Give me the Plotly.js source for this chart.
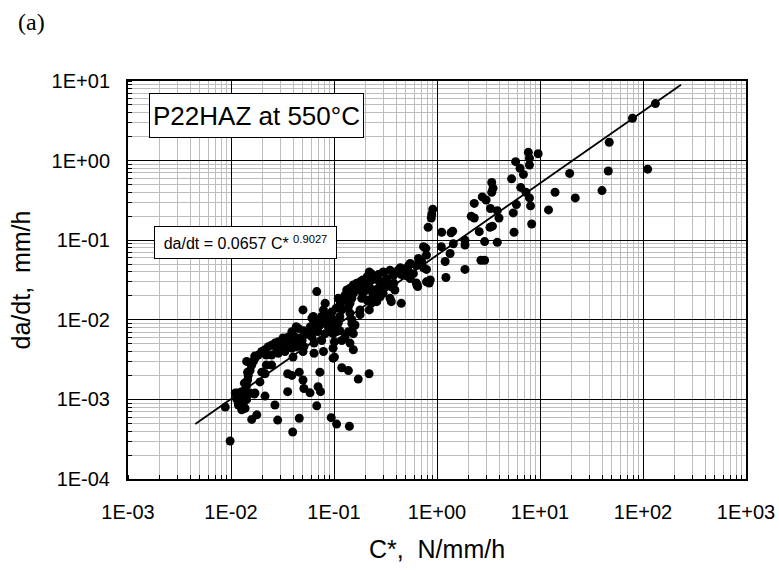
<!DOCTYPE html>
<html>
<head>
<meta charset="utf-8">
<script src="https://cdn.plot.ly/plotly-3.0.1.min.js"></script>
<style>html,body{margin:0;padding:0;background:#fff;}#chart{width:779px;height:571px;}</style>
</head>
<body>
<div id="chart"></div>
<script>
// C* (N/mm/h) values of the measured points
const cStar = [
132, 79, 47, 111, 46, 40, 19.4, 22, 14, 12.1, 7.7, 9.6, 7.9, 7.9, 5.8, 6.4, 6.9, 5.3, 6.5, 7.3,
7.9, 8.1, 5.9, 5.5, 8.3, 5.6, 3.4, 3.5, 3.4, 2.75, 3.0, 2.3, 3.3, 3.85, 4.0, 2.15, 2.3, 3.27, 3.45, 2.57,
2.9, 3.85, 1.87, 1.87, 1.42, 1.37, 1.11, 1.44, 1.34, 1.2, 2.67, 2.9, 1.87, 1.22, 1.1,
0.91, 0.89, 0.88, 0.82, 0.74, 0.78, 0.79,
0.66, 0.71, 0.74, 0.79, 0.84, 0.64, 0.79, 0.86, 0.55, 0.59, 0.53, 0.50, 0.55, 0.63, 0.44, 0.45, 0.35, 0.42,
0.38, 0.32, 0.34, 0.38, 0.45, 0.36, 0.35, 0.30, 0.28, 0.26, 0.25, 0.24, 0.27, 0.30, 0.325, 0.22, 0.25, 0.26,
0.23, 0.22, 0.21, 0.19, 0.186, 0.179, 0.166, 0.154, 0.149, 0.143, 0.138, 0.179, 0.22, 0.23, 0.21, 0.179,
0.143, 0.149, 0.154, 0.16, 0.123, 0.119, 0.114, 0.110, 0.106, 0.114, 0.128, 0.133, 0.143, 0.154, 0.166, 0.179,
0.19, 0.21, 0.23, 0.28, 0.325, 0.36, 0.39, 0.53, 0.50, 0.63, 0.65,
0.068, 0.050, 0.082, 0.079, 0.076, 0.070, 0.094, 0.098, 0.101, 0.094, 0.088, 0.09, 0.082, 0.101, 0.098, 0.119,
0.114, 0.128, 0.138, 0.149, 0.154, 0.143, 0.154, 0.068, 0.063, 0.059, 0.057, 0.043, 0.039, 0.042, 0.049, 0.061,
0.051, 0.064, 0.076, 0.079, 0.064, 0.050, 0.101, 0.040, 0.043,
0.061, 0.064, 0.051, 0.045, 0.039, 0.036, 0.032, 0.0288, 0.0267, 0.0248, 0.023, 0.0214, 0.0199, 0.0184, 0.0171,
0.0165, 0.0159, 0.0153, 0.0147, 0.0145, 0.0142, 0.0137, 0.0127, 0.0116,
0.022, 0.0248, 0.0288, 0.0334, 0.039, 0.045, 0.070, 0.088, 0.102,
0.031, 0.037, 0.042, 0.0278, 0.049, 0.061, 0.073, 0.09, 0.098,
0.0142, 0.0199, 0.0191, 0.0214, 0.0248, 0.022, 0.0171, 0.0214, 0.0267, 0.0178, 0.0159, 0.0284, 0.0397, 0.046,
0.0355, 0.0355, 0.039, 0.046, 0.05, 0.051, 0.0585, 0.070, 0.074, 0.073, 0.068, 0.098, 0.119, 0.094, 0.106,
0.0098, 0.0088, 0.0114, 0.0118, 0.0127, 0.0137, 0.0123, 0.0132, 0.0142, 0.0153, 0.0168, 0.011, 0.0132,
0.138, 0.172, 0.219, 0.141,
0.11, 0.034, 0.040, 0.047, 0.055, 0.066, 0.078, 0.085, 0.095, 0.105, 0.115, 0.125, 0.135, 0.145, 0.16,
0.175, 0.20, 0.24, 0.27, 0.30, 0.0135, 0.0145, 0.0155, 0.017, 0.0125, 0.0118
];
// da/dt (mm/h) values of the measured points
const dadt = [
5.2, 3.4, 1.7, 0.78, 0.74, 0.42, 0.69, 0.34, 0.40, 0.24, 1.27, 1.22, 1.07, 0.88, 0.97, 0.80, 0.67, 0.59, 0.46, 0.40,
0.34, 0.27, 0.28, 0.22, 0.16, 0.126, 0.53, 0.45, 0.40, 0.35, 0.32, 0.29, 0.25, 0.235, 0.19, 0.20, 0.19, 0.145, 0.15, 0.128,
0.096, 0.094, 0.10, 0.087, 0.13, 0.124, 0.126, 0.09, 0.068, 0.054, 0.056, 0.056, 0.043, 0.034, 0.083,
0.245, 0.21, 0.19, 0.145, 0.083, 0.079, 0.065,
0.059, 0.054, 0.045, 0.043, 0.029, 0.027, 0.030, 0.0316, 0.033, 0.038, 0.040, 0.036, 0.051, 0.048, 0.045, 0.037, 0.042, 0.042,
0.0365, 0.0316, 0.0274, 0.0288, 0.0161, 0.0169, 0.0186, 0.0215, 0.0195, 0.0169, 0.0237, 0.0205, 0.0249, 0.026, 0.033, 0.040, 0.033, 0.032,
0.0316, 0.026, 0.0237, 0.0215, 0.0186, 0.026, 0.0237, 0.0215, 0.0186, 0.0161, 0.0146, 0.0133, 0.0133, 0.0161, 0.0176, 0.0116,
0.0121, 0.010, 0.0082, 0.0086, 0.0176, 0.0133, 0.011, 0.0091, 0.0071, 0.0146, 0.0204, 0.0237, 0.0249, 0.0274, 0.0288, 0.030,
0.0316, 0.0348, 0.038, 0.030, 0.0288, 0.026, 0.0237, 0.048, 0.044, 0.029, 0.0262,
0.0226, 0.0133, 0.0161, 0.0133, 0.011, 0.010, 0.0121, 0.010, 0.0086, 0.0082, 0.0105, 0.0073, 0.0067, 0.0053, 0.0044, 0.0055,
0.0073, 0.0061, 0.0071, 0.009, 0.0067, 0.0051, 0.0042, 0.0086, 0.011, 0.0082, 0.0067, 0.0082, 0.0071, 0.0061, 0.0055, 0.0061,
0.0046, 0.0051, 0.0055, 0.004, 0.0038, 0.004, 0.0034, 0.0034, 0.0046,
0.0105, 0.009, 0.0073, 0.0078, 0.0064, 0.0061, 0.0059, 0.0053, 0.0051, 0.0048, 0.0046, 0.0042, 0.004, 0.0036, 0.0033,
0.003, 0.0027, 0.0023, 0.002, 0.00175, 0.0015, 0.0013, 0.00125, 0.0012,
0.0036, 0.0036, 0.0038, 0.004, 0.0044, 0.0048, 0.0071, 0.0082, 0.0095,
0.0046, 0.0051, 0.0055, 0.0042, 0.0061, 0.0073, 0.0086, 0.010, 0.0067,
0.003, 0.0022, 0.00166, 0.0021, 0.0027, 0.0027, 0.0012, 0.0011, 0.00085, 0.00064, 0.00056, 0.00055, 0.00039, 0.00058,
0.00125, 0.0021, 0.002, 0.0022, 0.00175, 0.00137, 0.00121, 0.00144, 0.00125, 0.0022, 0.00083, 0.0033, 0.0025, 0.00059, 0.00049,
0.0003, 0.0008, 0.001, 0.00085, 0.00074, 0.00077, 0.00094, 0.0009, 0.001, 0.0012, 0.00117, 0.0012, 0.0011,
0.0023, 0.0018, 0.0021, 0.00046,
0.0186, 0.0048, 0.0052, 0.0058, 0.0066, 0.0078, 0.0092, 0.011, 0.0125, 0.014, 0.016, 0.018, 0.020, 0.022, 0.025,
0.028, 0.029, 0.035, 0.037, 0.040, 0.0016, 0.0022, 0.0028, 0.0035, 0.0011, 0.00105
];
// Power-law trend line end points as drawn (da/dt = 0.0657 C*^0.9027)
const trendX = [0.0045, 234];
const trendY = [0.00049, 9.0];

const xTickVals = [0.001, 0.01, 0.1, 1, 10, 100, 1000];
const xTickText = ["1E-03", "1E-02", "1E-01", "1E+00", "1E+01", "1E+02", "1E+03"];
const yTickVals = [0.0001, 0.001, 0.01, 0.1, 1, 10];
const yTickText = ["1E-04", "1E-03", "1E-02", "1E-01", "1E+00", "1E+01"];

const FONT = 'Arial, "Liberation Sans", sans-serif';

const traces = [
  {
    x: cStar, y: dadt, type: 'scatter', mode: 'markers',
    marker: {color: '#000', size: 9, line: {width: 0}},
    hoverinfo: 'skip', showlegend: false
  },
  {
    x: trendX, y: trendY, type: 'scatter', mode: 'lines',
    line: {color: '#000', width: 1.8},
    hoverinfo: 'skip', showlegend: false
  }
];

function axisBase() {
  return {
    type: 'log', tickmode: 'array',
    showgrid: true, gridcolor: '#000', gridwidth: 1,
    showline: true, linecolor: '#000', linewidth: 2, mirror: true,
    ticks: '', zeroline: false,
    tickfont: {family: FONT, size: 20, color: '#000'},
    minor: {tickmode: 'linear', dtick: 'D1', showgrid: true, gridcolor: '#bdbdbd', gridwidth: 1,
            ticks: 'inside', ticklen: 4, tickcolor: '#000', tickwidth: 1}
  };
}

const xaxis = Object.assign(axisBase(), {
  range: [-3, 3], tickvals: xTickVals, ticktext: xTickText, ticklabelstandoff: 14,
  title: {text: 'C*,\u00a0 N/mm/h', font: {family: FONT, size: 25, color: '#000'}, standoff: 18}
});
const yaxis = Object.assign(axisBase(), {
  range: [-4, 1], tickvals: yTickVals, ticktext: yTickText, ticklabelstandoff: 12,
  title: {text: 'da/dt,\u00a0 mm/h', font: {family: FONT, size: 25, color: '#000'}, standoff: 14}
});

const layout = {
  width: 779, height: 571,
  margin: {l: 128, r: 33, t: 81, b: 92},
  paper_bgcolor: '#fff', plot_bgcolor: '#fff',
  xaxis: xaxis, yaxis: yaxis,
  showlegend: false,
  annotations: [
    {text: '(a)', xref: 'paper', yref: 'paper', x: -0.181, y: 1.148, xanchor: 'left', yanchor: 'middle',
     showarrow: false, font: {family: '"Times New Roman", "Liberation Serif", serif', size: 24, color: '#000'}},
    {text: 'P22HAZ at 550°C', xref: 'paper', yref: 'paper', x: 0.034, y: 0.970, xanchor: 'left', yanchor: 'top',
     showarrow: false, width: 211, height: 41, borderpad: 1, borderwidth: 1, bordercolor: '#000', bgcolor: '#fff',
     font: {family: FONT, size: 26, color: '#000'}},
    {text: 'da/dt = 0.0657 C* <sup>0.9027</sup>', xref: 'paper', yref: 'paper', x: 0.042, y: 0.636,
     xanchor: 'left', yanchor: 'top', showarrow: false, width: 179, height: 29, borderpad: 1, borderwidth: 1,
     bordercolor: '#000', bgcolor: '#fff', font: {family: FONT, size: 16, color: '#000'}}
  ]
};

Plotly.newPlot('chart', traces, layout, {staticPlot: true, displayModeBar: false});
</script>
</body>
</html>
